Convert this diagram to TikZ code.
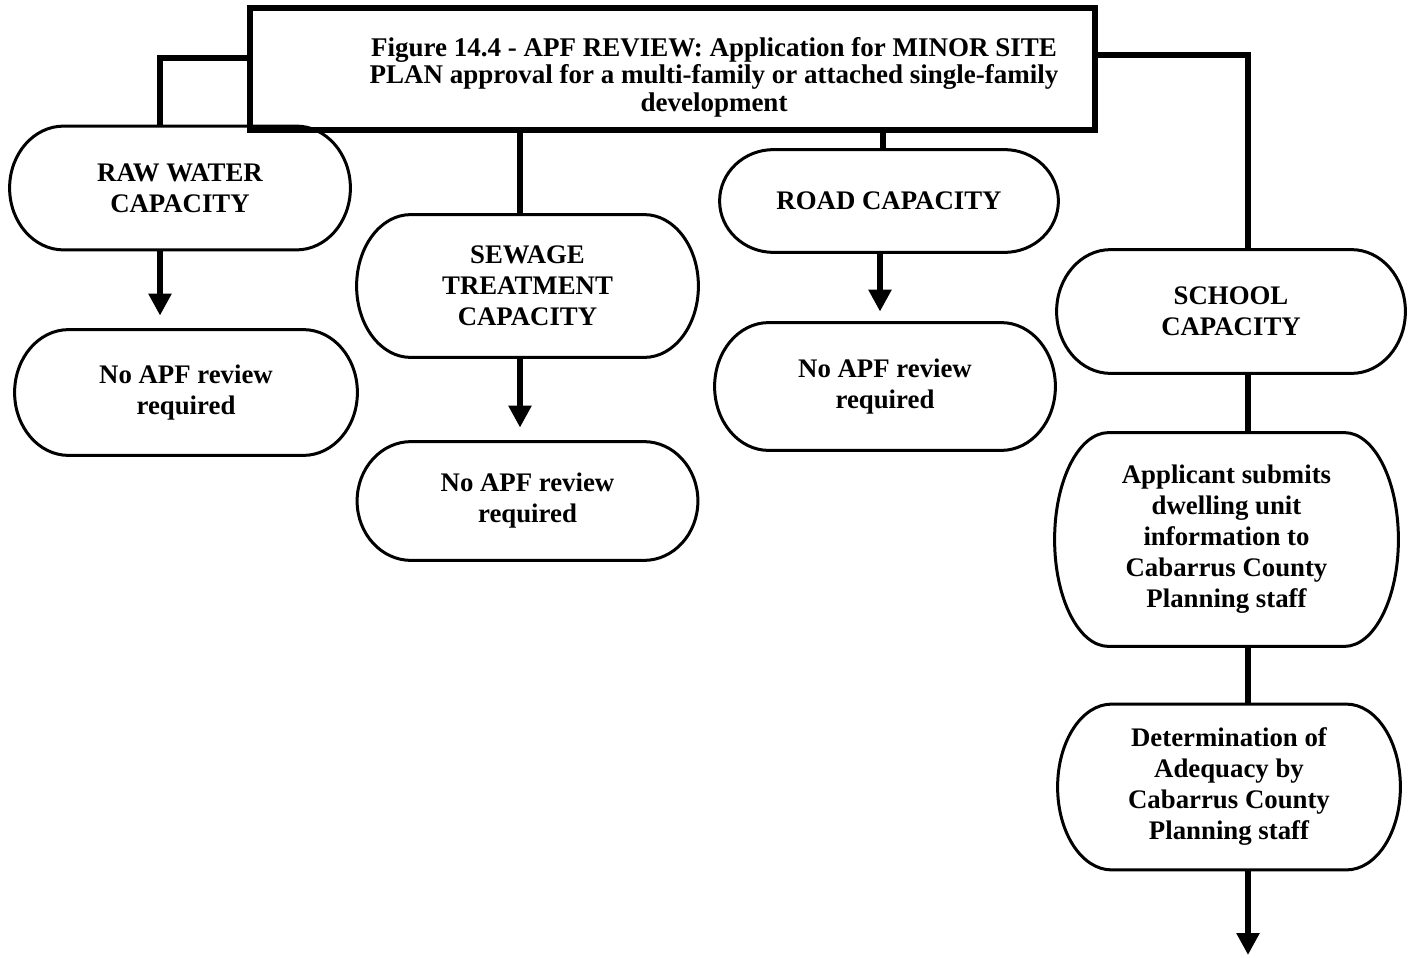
\documentclass[tikz,border=0pt]{standalone}
\usepackage{fontspec}
\setmainfont{Liberation Serif}
\usetikzlibrary{arrows.meta,calc}
\tikzstyle{line} = [draw, line width=3pt, -{Triangle[length=11pt,width=11pt]}, shorten >=7pt]
\tikzstyle{link} = [draw, line width=3pt]
\tikzstyle{header} = [draw, line width=3pt, rectangle, inner sep=0pt]
\tikzstyle{caption} = [align=center, inner sep=0pt, font=\bfseries\fontsize{13.5}{13.8}\selectfont]
% terminator outline: flat top and bottom, half-ellipse ends
\tikzstyle{cloud} = [rectangle, align=center, inner sep=0pt, font=\bfseries\fontsize{13.4}{15.5}\selectfont,
    append after command={\pgfextra{\draw[x=1pt, y=1pt, line width=1.5pt]
        let \p1=(\tikzlastnode.north west), \p2=(\tikzlastnode.south east), \n1={(\y1-\y2)/2} in
        (\x1+27pt,\y1) -- (\x2-27pt,\y1) arc[start angle=90, end angle=-90, x radius=27pt, y radius=\n1]
        -- (\x1+27pt,\y2) arc[start angle=270, end angle=90, x radius=27pt, y radius=\n1] -- cycle;}}]

\begin{document}
\begin{tikzpicture}[x=0.5pt, y=-0.5pt]
        \useasboundingbox (0,0) rectangle (1408,958);
        \node[header, minimum width=422.5pt, minimum height=61pt] (title) at (672.5,69) {};
        \node[caption] (titletext) at (714,77) {Figure 14.4 - APF REVIEW: Application for MINOR SITE\\PLAN approval for a multi-family or attached single-family\\development};
        \node[cloud, minimum width=170pt, minimum height=61.5pt] (raw) at (180,188) {RAW WATER\\CAPACITY};
        \node[cloud, below of=raw, node distance=102.25pt, xshift=3pt, minimum width=171pt, minimum height=62.5pt] (rawno) {No APF review\\required};
        \node[cloud, minimum width=170.5pt, minimum height=71pt] (sewage) at (527.5,286) {SEWAGE\\TREATMENT\\CAPACITY};
        \node[cloud, below of=sewage, node distance=107.5pt, minimum width=170pt, minimum height=59pt] (sewageno) {No APF review\\required};
        \node[cloud, minimum width=169pt, minimum height=51pt] (road) at (889,201) {ROAD CAPACITY};
        \node[cloud, below of=road, node distance=92.75pt, xshift=-2pt, minimum width=170pt, minimum height=63.5pt] (roadno) {No APF review\\required};
        \node[cloud, minimum width=174pt, minimum height=61.5pt] (school) at (1231,311.5) {SCHOOL\\CAPACITY};
        \node[cloud, below of=school, node distance=114pt, xshift=-2.25pt, minimum width=171.5pt, minimum height=106.5pt] (submit) {Applicant submits\\dwelling unit\\information to\\Cabarrus County\\Planning staff};
        \node[cloud, below of=submit, node distance=123.75pt, xshift=1.25pt, minimum width=171pt, minimum height=82.5pt] (adequacy) {Determination of\\Adequacy by\\Cabarrus County\\Planning staff};
        \coordinate (out) at (1248,955);
        \path[link] ([yshift=5.5pt]title.west) -| ([xshift=-10pt]raw.north);
        \path[link] ([xshift=-3.75pt]sewage.north) -- ([xshift=-3.75pt]sewage.north |- title.south);
        \path[link] ([xshift=-3pt]road.north) -- ([xshift=-3pt]road.north |- title.south);
        \path[link] ([yshift=7pt]title.east) -| ([xshift=8.5pt]school.north);
        \path[line] ([xshift=-10pt]raw.south) -- ([xshift=-10pt]raw.south |- rawno.north);
        \path[line] ([xshift=-3.75pt]sewage.south) -- ([xshift=-3.75pt]sewage.south |- sewageno.north);
        \path[line, shorten >=5.5pt] ([xshift=-4.5pt]road.south) -- ([xshift=-4.5pt]road.south |- roadno.north);
        \path[link] ([xshift=8.5pt]school.south) -- ([xshift=8.5pt]school.south |- submit.north);
        \path[link] ([xshift=8.5pt]school.south |- submit.south) -- ([xshift=8.5pt]school.south |- adequacy.north);
        \path[line, shorten >=0pt] (adequacy.south -| out) -- (out);
    \end{tikzpicture}
\end{document}
